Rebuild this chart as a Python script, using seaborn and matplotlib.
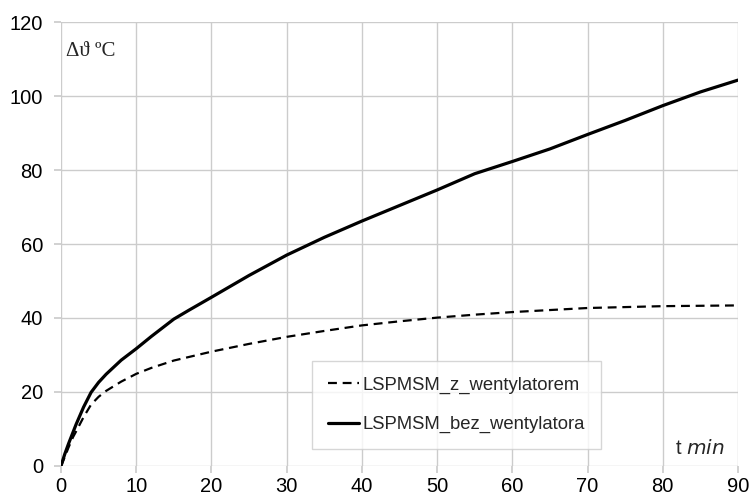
import matplotlib
matplotlib.use("Agg")
import matplotlib.pyplot as plt
import seaborn as sns
import pandas as pd

# solid curve: LSPMSM_bez_wentylatora
t_bez = [0, 0.5, 1, 2, 3, 4, 5, 6, 8, 10, 12, 15, 17, 20, 25, 30, 35, 40, 45,
         50, 55, 60, 65, 70, 75, 80, 85, 90]
bez_wentylatora = [0, 3.2, 6, 11.2, 15.9, 19.9, 22.6, 24.8, 28.6, 31.7, 35.0, 39.7,
                   42.1, 45.6, 51.5, 57.0, 61.8, 66.2, 70.4, 74.6, 79.0, 82.3, 85.7,
                   89.6, 93.4, 97.4, 101.1, 104.3]

# dashed curve: LSPMSM_z_wentylatorem
t_z = [0, 0.5, 1, 1.6, 2, 3, 4, 5, 6, 8, 10, 12, 15, 20, 25, 30, 35, 40, 45, 50,
       55, 60, 70, 80, 90]
z_wentylatorem = [0, 2.4, 5, 7.8, 9.3, 13.2, 16.6, 18.7, 20.3, 22.8, 24.9, 26.5,
                  28.5, 30.9, 33.0, 34.9, 36.5, 38.0, 39.1, 40.1, 40.9, 41.6, 42.7,
                  43.2, 43.4]

x_ticks = [0, 10, 20, 30, 40, 50, 60, 70, 80, 90]
y_ticks = [0, 20, 40, 60, 80, 100, 120]

sns.set_theme(style="white")
plt.rcParams['font.family'] = ['Liberation Sans', 'DejaVu Sans']

df_z = pd.DataFrame({"t": t_z, "val": z_wentylatorem})
df_bez = pd.DataFrame({"t": t_bez, "val": bez_wentylatora})

fig = plt.figure(figsize=(7.52, 4.97), dpi=100)
ax = fig.add_axes([0.0811, 0.0624, 0.9003, 0.8933])

sns.lineplot(data=df_z, x="t", y="val", ax=ax, color="black", lw=1.6,
             linestyle=(0, (4, 2.6)), label="LSPMSM_z_wentylatorem")
sns.lineplot(data=df_bez, x="t", y="val", ax=ax, color="black", lw=2.3,
             label="LSPMSM_bez_wentylatora")

ax.set_xlim(0, 90)
ax.set_ylim(0, 120)
ax.set_xticks(x_ticks)
ax.set_yticks(y_ticks)
ax.grid(True, color="#cccccc", lw=1)
for s in ax.spines.values():
    s.set_visible(False)
ax.tick_params(axis="both", length=5, color="#cccccc", labelsize=14.5,
               labelcolor="black", direction="out", bottom=True, left=True)
ax.tick_params(axis="y", pad=8)
ax.tick_params(axis="x", pad=3)
ax.set_xlabel("")
ax.set_ylabel("")

ax.text(0.7, 112.0, "Δϑ ºC", family="Liberation Serif", fontsize=15, va="center", ha="left")
ax.text(88.3, 4.6, "t $\\mathit{min}$", fontsize=14.5, ha="right", va="center")

leg = ax.legend(loc="lower left", bbox_to_anchor=(0.371, 0.038), frameon=True,
                fancybox=False, fontsize=13.3, handlelength=1.7, handletextpad=0.2,
                labelspacing=1.2, borderpad=0.85, borderaxespad=0)
leg.get_frame().set_edgecolor("#cccccc")
leg.get_frame().set_linewidth(1)

fig.savefig("out.png", dpi=100)
